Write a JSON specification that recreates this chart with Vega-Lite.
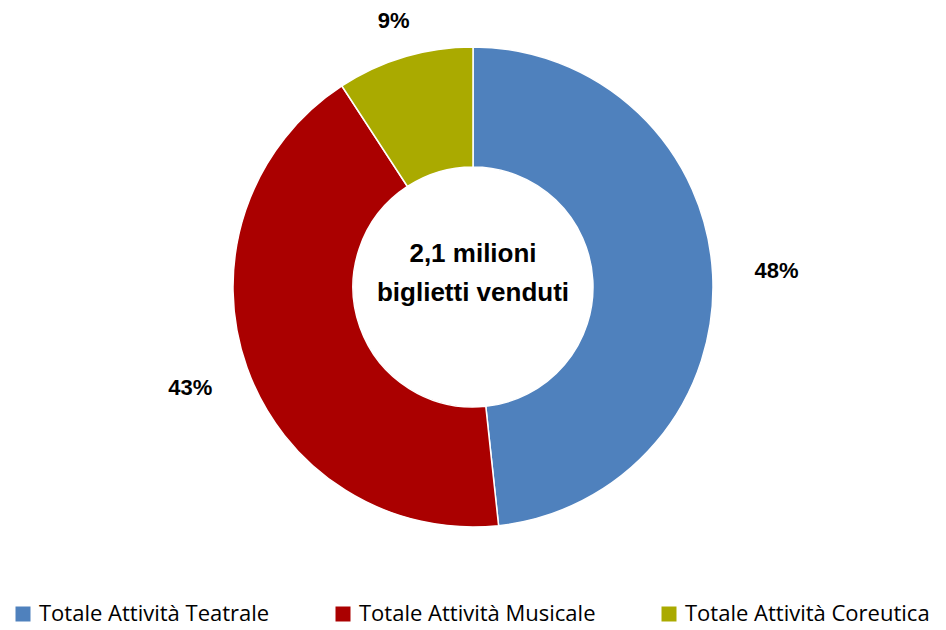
{
  "$schema": "https://vega.github.io/schema/vega-lite/v6.json",
  "width": 946,
  "height": 574,
  "autosize": {"type": "none"},
  "padding": {"left": 0, "top": 0, "right": 0, "bottom": 56},
  "background": "white",
  "data": {"values": [
    {"categoria": "Totale Attività Teatrale", "quota": 48.3, "etichetta": "48%", "ordine": 1},
    {"categoria": "Totale Attività Musicale", "quota": 42.5, "etichetta": "43%", "ordine": 2},
    {"categoria": "Totale Attività Coreutica", "quota": 9.2, "etichetta": "9%", "ordine": 3}
  ]},
  "layer": [
    {
      "mark": {"type": "arc", "innerRadius": 120, "outerRadius": 240, "stroke": "white", "strokeWidth": 1.5},
      "encoding": {
        "theta": {"field": "quota", "type": "quantitative", "stack": true},
        "order": {"field": "ordine", "type": "quantitative"},
        "color": {
          "field": "categoria", "type": "nominal",
          "scale": {"domain": ["Totale Attività Teatrale", "Totale Attività Musicale", "Totale Attività Coreutica"],
                    "range": ["#4F81BD", "#AA0000", "#AAAA00"]},
          "legend": {
            "title": null, "orient": "none", "legendX": 12, "legendY": 603,
            "direction": "horizontal", "columns": 3, "columnPadding": 62,
            "symbolType": "square", "symbolSize": 225, "symbolStrokeWidth": 0, "symbolOpacity": 1,
            "labelFont": "Open Sans", "labelFontSize": 22, "labelColor": "#000000", "labelOffset": 5,
            "labelLimit": 400
          }
        }
      }
    },
    {
      "mark": {"type": "text", "font": "Liberation Sans", "fontSize": 22, "fontWeight": "bold", "color": "#000000"},
      "encoding": {
        "theta": {"field": "quota", "type": "quantitative", "stack": true},
        "radius": {"field": "quota", "type": "quantitative", "scale": {"type": "linear", "zero": false, "domain": [9.2, 48.3], "range": [278, 304]}},
        "order": {"field": "ordine", "type": "quantitative"},
        "text": {"field": "etichetta", "type": "nominal"}
      }
    },
    {
      "data": {"values": [{"riga": "2,1 milioni", "n": 1}, {"riga": "biglietti venduti", "n": 2}]},
      "mark": {"type": "text", "font": "Liberation Sans", "fontSize": 26, "fontWeight": "bold", "color": "#000000"},
      "encoding": {
        "text": {"field": "riga", "type": "nominal"},
        "y": {"field": "n", "type": "ordinal", "axis": null, "scale": {"type": "point", "domain": [1, 2], "range": [254, 293], "padding": 0}}
      }
    }
  ],
  "config": {"view": {"stroke": null}}
}
